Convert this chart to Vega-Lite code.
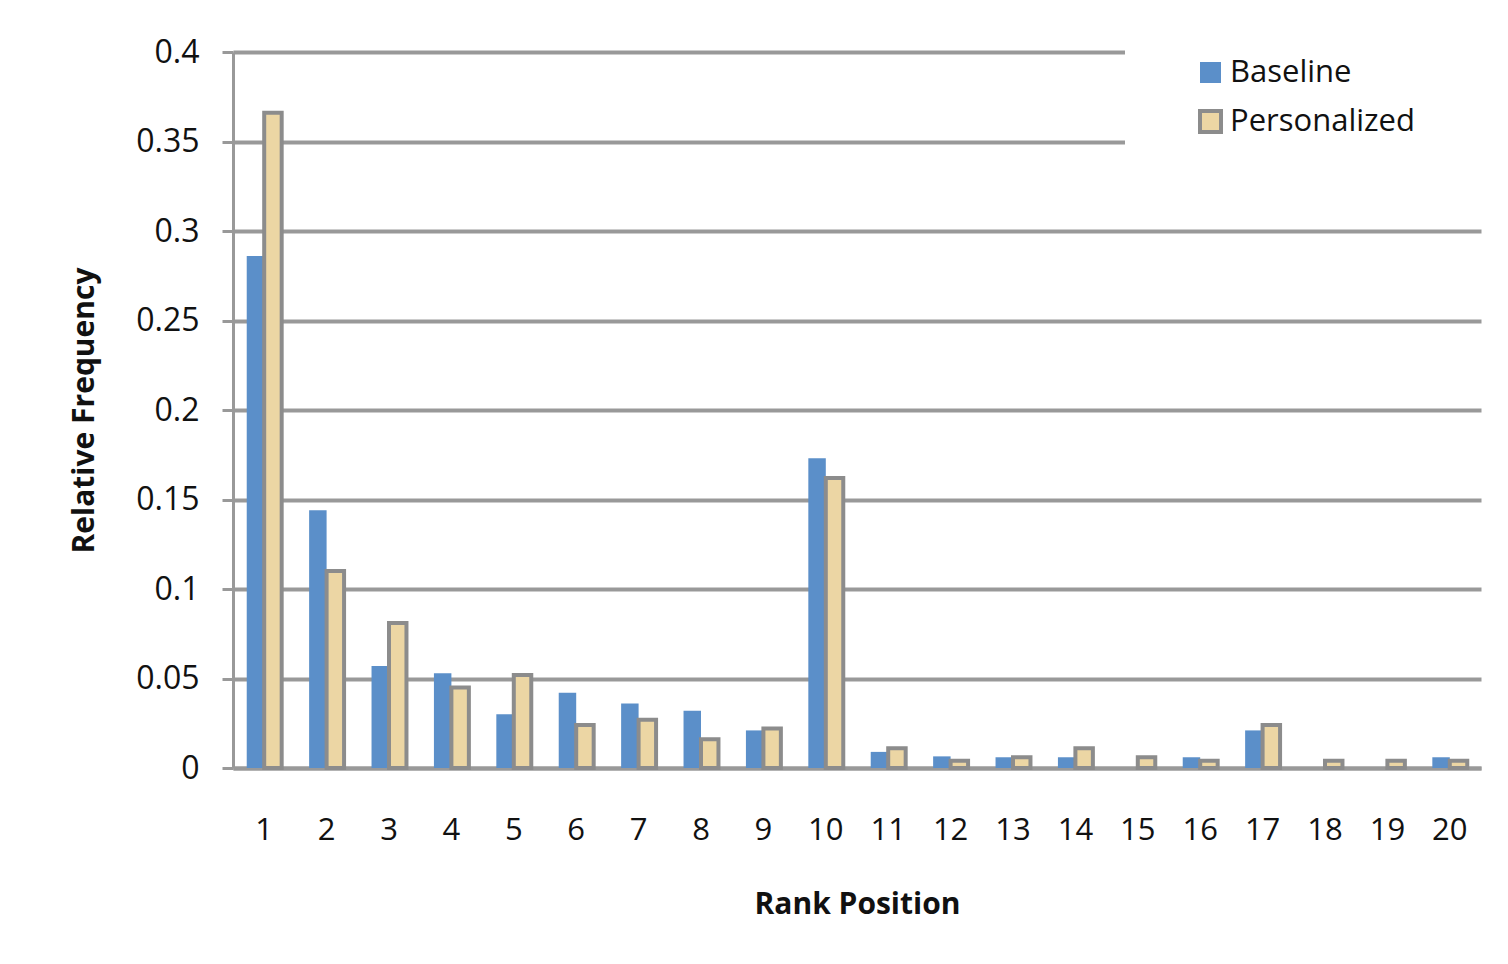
{
  "$schema": "https://vega.github.io/schema/vega-lite/v6.json",
  "width": 1248,
  "height": 716,
  "autosize": {"type": "none"},
  "padding": {"left": 233, "top": 52, "right": 27, "bottom": 196},
  "background": "white",
  "config": {
    "font": "Open Sans",
    "view": {"stroke": null},
    "axis": {"labelFont": "Open Sans", "titleFont": "Open Sans", "labelColor": "#111", "titleColor": "#111"}
  },
  "data": {
    "values": [
      {"rank": 1, "series": "Baseline", "value": 0.286}, {"rank": 1, "series": "Personalized", "value": 0.366},
      {"rank": 2, "series": "Baseline", "value": 0.144}, {"rank": 2, "series": "Personalized", "value": 0.110},
      {"rank": 3, "series": "Baseline", "value": 0.057}, {"rank": 3, "series": "Personalized", "value": 0.081},
      {"rank": 4, "series": "Baseline", "value": 0.053}, {"rank": 4, "series": "Personalized", "value": 0.045},
      {"rank": 5, "series": "Baseline", "value": 0.030}, {"rank": 5, "series": "Personalized", "value": 0.052},
      {"rank": 6, "series": "Baseline", "value": 0.042}, {"rank": 6, "series": "Personalized", "value": 0.024},
      {"rank": 7, "series": "Baseline", "value": 0.036}, {"rank": 7, "series": "Personalized", "value": 0.027},
      {"rank": 8, "series": "Baseline", "value": 0.032}, {"rank": 8, "series": "Personalized", "value": 0.016},
      {"rank": 9, "series": "Baseline", "value": 0.021}, {"rank": 9, "series": "Personalized", "value": 0.022},
      {"rank": 10, "series": "Baseline", "value": 0.173}, {"rank": 10, "series": "Personalized", "value": 0.162},
      {"rank": 11, "series": "Baseline", "value": 0.009}, {"rank": 11, "series": "Personalized", "value": 0.011},
      {"rank": 12, "series": "Baseline", "value": 0.0065}, {"rank": 12, "series": "Personalized", "value": 0.004},
      {"rank": 13, "series": "Baseline", "value": 0.006}, {"rank": 13, "series": "Personalized", "value": 0.006},
      {"rank": 14, "series": "Baseline", "value": 0.006}, {"rank": 14, "series": "Personalized", "value": 0.011},
      {"rank": 15, "series": "Baseline", "value": 0}, {"rank": 15, "series": "Personalized", "value": 0.006},
      {"rank": 16, "series": "Baseline", "value": 0.006}, {"rank": 16, "series": "Personalized", "value": 0.004},
      {"rank": 17, "series": "Baseline", "value": 0.021}, {"rank": 17, "series": "Personalized", "value": 0.024},
      {"rank": 18, "series": "Baseline", "value": 0}, {"rank": 18, "series": "Personalized", "value": 0.004},
      {"rank": 19, "series": "Baseline", "value": 0}, {"rank": 19, "series": "Personalized", "value": 0.004},
      {"rank": 20, "series": "Baseline", "value": 0.006}, {"rank": 20, "series": "Personalized", "value": 0.004}
    ]
  },
  "mark": {"type": "bar", "strokeWidth": 4},
  "encoding": {
    "x": {
      "field": "rank", "type": "ordinal",
      "scale": {"paddingInner": 0.44, "paddingOuter": 0.22},
      "axis": {
        "title": "Rank Position", "labelAngle": 0, "labelFontSize": 31, "titleFontSize": 30, "titleFontWeight": "bold",
        "ticks": false, "domainColor": "#999", "domainWidth": 4, "labelPadding": 47, "titlePadding": 44
      }
    },
    "xOffset": {"field": "series", "type": "nominal", "scale": {"paddingInner": 0}},
    "y": {
      "field": "value", "type": "quantitative",
      "scale": {"domain": [0, 0.4], "nice": false},
      "axis": {
        "title": "Relative Frequency", "values": [0, 0.05, 0.1, 0.15, 0.2, 0.25, 0.3, 0.35, 0.4],
        "labelExpr": "'' + datum.value", "labelFontSize": 32, "titleFontSize": 30, "titleFontWeight": "bold",
        "grid": true, "gridColor": "#999", "gridWidth": 4,
        "domainColor": "#999", "domainWidth": 3, "tickColor": "#999", "tickWidth": 3, "tickSize": 11,
        "labelPadding": 23, "titlePadding": 36
      }
    },
    "fill": {
      "field": "series", "type": "nominal",
      "scale": {"domain": ["Baseline", "Personalized"], "range": ["#5b8fc9", "#ecd6a4"]},
      "legend": {
        "title": null, "orient": "none", "legendX": 892, "legendY": -65, "fillColor": "white", "padding": 70,
        "labelFontSize": 31, "labelFont": "Open Sans", "labelColor": "#111", "symbolType": "square", "symbolSize": 441,
        "symbolStrokeWidth": 4, "rowPadding": 12, "labelOffset": 4, "labelLimit": 400
      }
    },
    "stroke": {
      "field": "series", "type": "nominal",
      "scale": {"domain": ["Baseline", "Personalized"], "range": ["rgba(0,0,0,0)", "#8c8c8c"]},
      "legend": null
    }
  }
}
